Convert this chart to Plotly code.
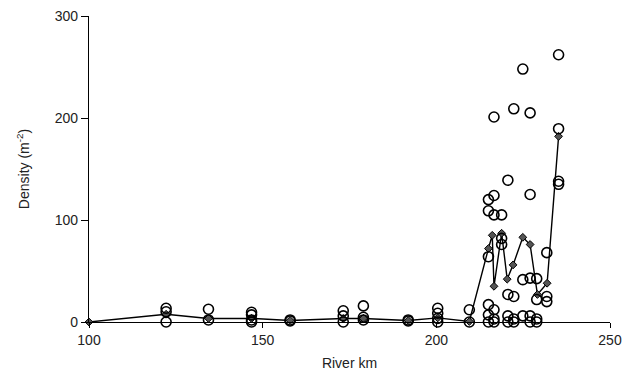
import plotly.graph_objects as go

# Mean density per site (line with small hatched markers)
mean_km = [100, 122.2, 134.4, 146.8, 157.9, 173.2, 179.0, 191.9, 200.4, 209.5,
           215.0, 216.1, 216.6, 218.8, 220.4, 222.1, 224.9, 227.0, 229.1, 231.9, 235.2]
mean_density = [0, 7.6, 3.5, 3.5, 1.5, 3.5, 3.5, 1.5, 4, 0.5,
                72, 85, 35, 87, 42, 56, 83, 76, 27, 38, 182]

# Individual samples (open circles)
sample_km = (
    [122.2] * 3 + [134.4] * 2 + [146.8] * 4 + [157.9] * 2 + [173.2] * 3 +
    [179.0] * 3 + [191.9] * 2 + [200.4] * 4 + [209.5] * 2 + [215.0] * 6 +
    [216.6] * 6 + [218.8] * 3 + [220.6] * 4 + [222.3] * 4 + [224.9] * 3 +
    [227.0] * 5 + [228.9] * 4 + [231.8] * 3 + [235.2] * 4
)
sample_density = (
    [13.5, 10, 0] + [12.5, 2] + [9.5, 7, 2, 0] + [2, 1] + [11, 6, 0] +
    [15.8, 4.6, 2] + [2, 1] + [13.5, 8.6, 3.6, 0] + [12, 0] +
    [120, 109, 64, 17, 7, 0] + [201, 124, 105, 12, 3, 0] + [105, 82, 76] +
    [139, 27, 6, 0] + [209, 25, 3, 0] + [248, 41.5, 6] +
    [205, 125, 43, 6, 0] + [42.5, 22, 3, 0] + [68, 25, 20] +
    [262, 189.5, 138, 135]
)

x_ticks = [100, 150, 200, 250]
y_ticks = [0, 100, 200, 300]

fig = go.Figure()
fig.add_trace(go.Scatter(
    x=mean_km, y=mean_density, mode="lines+markers",
    line=dict(color="black", width=1.4),
    marker=dict(symbol="diamond", size=6, color="#555555",
                line=dict(color="black", width=1)),
    cliponaxis=False, showlegend=False,
))
fig.add_trace(go.Scatter(
    x=sample_km, y=sample_density, mode="markers",
    marker=dict(symbol="circle-open", size=10, color="black",
                line=dict(color="black", width=1.6)),
    cliponaxis=False, showlegend=False,
))

FAM = "Liberation Sans, Arial, sans-serif"
TXT = "#222222"
font = dict(family=FAM, size=14, color=TXT)

fig.update_layout(
    template="none",
    width=636, height=383,
    margin=dict(l=89, r=26, t=16, b=61),
    paper_bgcolor="white", plot_bgcolor="white",
    font=font,
    xaxis=dict(
        range=[100, 250], tickvals=x_ticks, ticktext=[str(v) for v in x_ticks],
        showline=True, linecolor="black", linewidth=1.4,
        ticks="outside", ticklen=5, tickcolor="black", tickwidth=1.2,
        tickfont=dict(family=FAM, size=14, color=TXT),
        showgrid=False, zeroline=False,
        title=dict(text="River km", font=dict(family=FAM, size=14, color=TXT), standoff=11),
    ),
    yaxis=dict(
        range=[0, 300], tickvals=y_ticks, ticktext=[str(v) for v in y_ticks],
        showline=True, linecolor="black", linewidth=1.4,
        ticks="outside", ticklen=7, tickcolor="black", tickwidth=1.2,
        tickfont=dict(family=FAM, size=14, color=TXT),
        showgrid=False, zeroline=False,
        title=dict(text="Density (m<sup>-2</sup>)", font=dict(family=FAM, size=14, color=TXT), standoff=21),
    ),
)

fig.write_html("out.html")
